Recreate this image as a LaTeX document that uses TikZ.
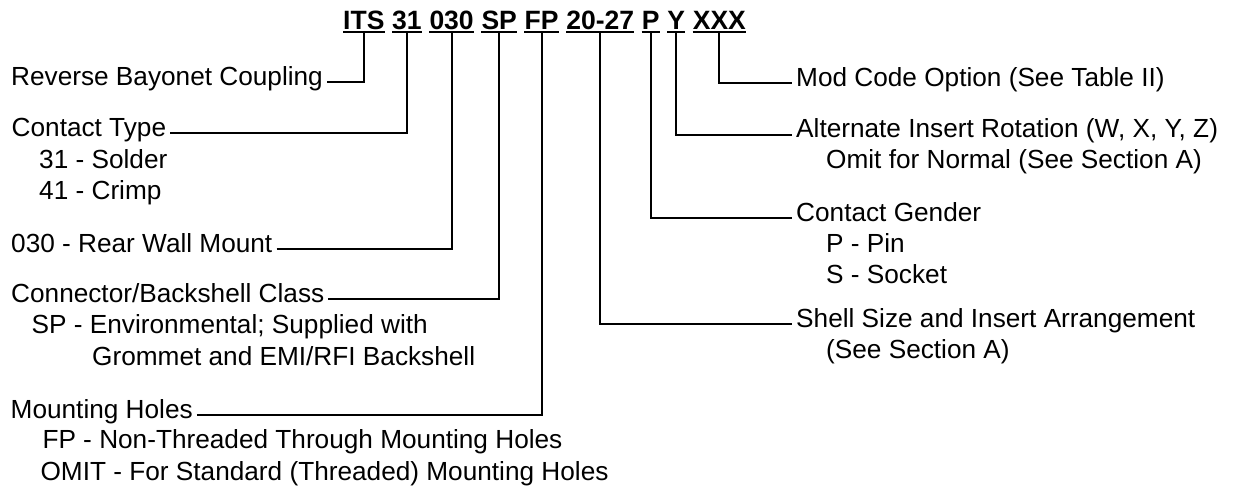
\documentclass[tikz,border=0pt]{standalone}
\usepackage{fontspec}
\setmainfont{Liberation Sans}
\usetikzlibrary{positioning}

\begin{document}
\begin{tikzpicture}[
  x=1pt,y=-1pt,
  every node/.style={inner sep=0pt},
  codepart/.style={font=\fontsize{26.5}{30}\selectfont\bfseries,
                   inner xsep=0pt,inner ysep=3pt},
  desc/.style={anchor=base west,font=\fontsize{26.2}{31.5}\selectfont,
               inner xsep=4pt},
  leader/.style={line width=2pt,black}
]
\useasboundingbox (0,0) rectangle (1236,490);

% --- Part number, one node per field ---
\node[codepart,anchor=base west] (its) at (343,29) {ITS};
\node[codepart,base right=7.4pt of its] (c31) {31};
\node[codepart,base right=7.4pt of c31] (c030) {030};
\node[codepart,base right=7.4pt of c030] (csp) {SP};
\node[codepart,base right=7.4pt of csp] (cfp) {FP};
\node[codepart,base right=7.4pt of cfp] (c2027) {20-27};
\node[codepart,base right=7.4pt of c2027] (cp) {P};
\node[codepart,base right=7.4pt of cp] (cy) {Y};
\node[codepart,base right=7.4pt of cy] (cxxx) {XXX};
\foreach \f in {its,c31,c030,csp,cfp,c2027,cp,cy,cxxx}
  \draw[leader] (\f.south west) -- (\f.south east);

% --- Left column ---
\node[desc] (rbc) at (7,85) {Reverse Bayonet Coupling};

\node[desc] (ctype) at (7.5,136) {Contact Type};
\node[desc] (solder) at (35,168) {31 - Solder};
\node[desc] (crimp) at (35,199.5) {41 - Crimp};

\node[desc] (rwm) at (7,252) {030 - Rear Wall Mount};

\node[desc] (cbc) at (7,302) {Connector/Backshell Class};
\node[desc] (envsp) at (27.5,333) {SP - Environmental; Supplied with};
\node[desc] (envsp2) at (88,365) {Grommet and EMI/RFI Backshell};

\node[desc] (mh) at (6.5,418) {Mounting Holes~};
\node[desc] (mhfp) at (38.3,448.5) {FP - Non-Threaded Through Mounting Holes};
\node[desc] (mhomit) at (36.4,480) {OMIT - For Standard (Threaded) Mounting Holes};

% --- Right column ---
\node[desc] (mod) at (792,86) {Mod Code Option (See Table II)};

\node[desc] (rot) at (792,137.5) {Alternate Insert Rotation (W, X, Y, Z)};
\node[desc] (rotnorm) at (822,168.5) {Omit for Normal (See Section A)};

\node[desc] (gender) at (792,221) {Contact Gender};
\node[desc] (gpin) at (822,252.5) {P - Pin};
\node[desc] (gsock) at (822,283.5) {S - Socket};

\node[desc] (shell) at (792,327) {Shell Size and Insert Arrangement};
\node[desc] (shellsec) at (822,358) {(See Section A)};

% --- Leaders from the fields ---
\draw[leader] (rbc.mid east) -| (its.south);
\draw[leader] (ctype.mid east) -| (c31.south);
\draw[leader] (rwm.mid east) -| (c030.south);
\draw[leader] (cbc.mid east) -| (csp.south);
\draw[leader] (mh.mid east) -| (cfp.south);
\draw[leader] (c2027.south) |- (shell.mid west);
\draw[leader] (cp.south) |- (gender.mid west);
\draw[leader] (cy.south) |- (rot.mid west);
\draw[leader] (cxxx.south) |- (mod.mid west);
\end{tikzpicture}
\end{document}
